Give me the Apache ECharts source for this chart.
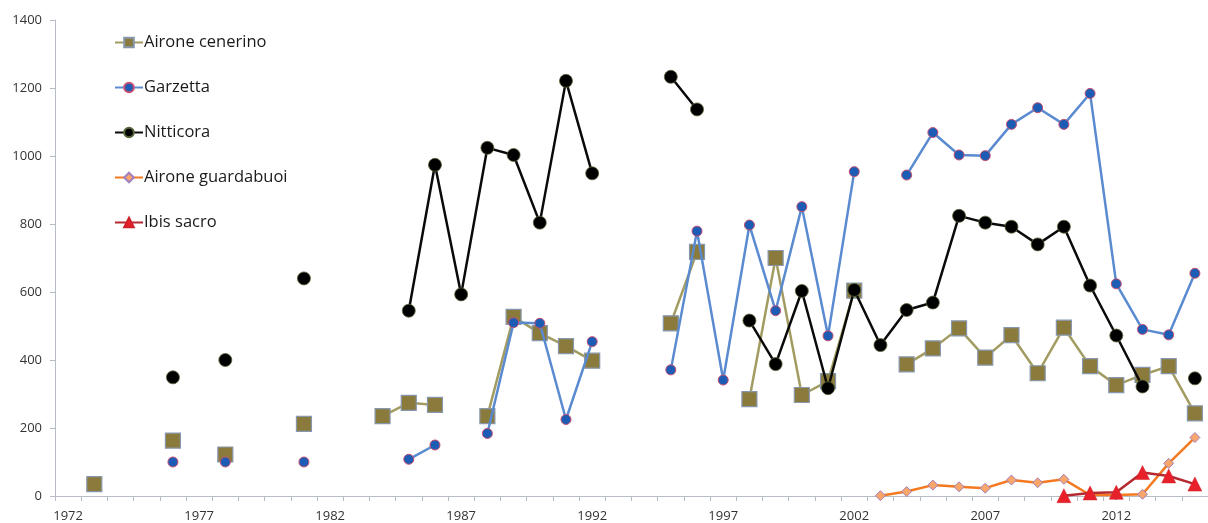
<!DOCTYPE html>
<html>
<head>
<meta charset="utf-8">
<script src="https://cdn.jsdelivr.net/npm/echarts@6/dist/echarts.min.js"></script>
<style>
html,body{margin:0;padding:0;background:#fff;}
#c{width:1208px;height:523px;}
</style>
</head>
<body>
<div id="c"></div>
<script>
// Years (categories)
var years = [];
for (var y = 1972; y <= 2015; y++) years.push(String(y));

// Values indexed by year 1972..2015 (null = no data)
var aironeCenerino = [
  null, 35, null, null, 163, null, 122, null, null, 212,   // 1972-1981
  null, null, 235, 274, 268, null, 235, 527, 479, 441,      // 1982-1991
  398, null, null, 508, 718, null, 285, 700, 297, 338,      // 1992-2001
  604, null, 387, 434, 493, 407, 473, 361, 495, 382,        // 2002-2011
  326, 356, 382, 243                                        // 2012-2015
];
var garzetta = [
  null, null, null, null, 100, null, 100, null, null, 100,
  null, null, null, 108, 150, null, 184, 510, 508, 225,
  454, null, null, 371, 779, 341, 797, 545, 851, 471,
  954, null, 944, 1069, 1003, 1001, 1093, 1142, 1093, 1184,
  624, 490, 474, 655
];
var nitticora = [
  null, null, null, null, 349, null, 400, null, null, 640,
  null, null, null, 545, 974, 593, 1024, 1003, 804, 1221,
  949, null, null, 1233, 1137, null, 516, 388, 603, 317,
  606, 444, 547, 569, 824, 804, 792, 740, 792, 619,
  472, 322, null, 346
];
var aironeGuardabuoi = [
  null, null, null, null, null, null, null, null, null, null,
  null, null, null, null, null, null, null, null, null, null,
  null, null, null, null, null, null, null, null, null, null,
  null, 1, 13, 32, 27, 23, 47, 39, 49, 3,
  3, 5, 96, 172
];
var ibisSacro = [
  null, null, null, null, null, null, null, null, null, null,
  null, null, null, null, null, null, null, null, null, null,
  null, null, null, null, null, null, null, null, null, null,
  null, null, null, null, null, null, null, null, 1, 9,
  11, 69, 59, 35
];
var seriesNames = ['Airone cenerino', 'Garzetta', 'Nitticora', 'Airone guardabuoi', 'Ibis sacro'];

var chart = echarts.init(document.getElementById('c'), null, {renderer: 'canvas'});
var font = '"Open Sans", "Noto Sans", sans-serif';

function mkSeries(name, data, lineColor, symbol, size, fill, border, bw, z) {
  return {
    name: name, type: 'line', data: data, connectNulls: false,
    symbol: symbol, symbolSize: size, showAllSymbol: true, z: z,
    lineStyle: {color: lineColor, width: 2.5},
    itemStyle: {color: fill, borderColor: border, borderWidth: bw},
    emphasis: {disabled: true},
    animation: false
  };
}

chart.setOption({
  backgroundColor: '#ffffff',
  animation: false,
  grid: {left: 55, top: 20, bottom: 27, width: 1156},
  legend: {
    orient: 'vertical', left: 109, top: 29, itemGap: 28,
    itemWidth: 28, itemHeight: 12,
    textStyle: {fontFamily: font, fontSize: 16.5, color: '#1a1a1a', padding: [0,0,0,-4]},
    data: seriesNames
  },
  xAxis: {
    type: 'category', data: years, boundaryGap: true,
    axisLine: {lineStyle: {color: '#b8bcc4', width: 1}},
    axisTick: {show: true, interval: 0, length: 5, lineStyle: {color: '#b8bcc4'}},
    axisLabel: {interval: 4, fontFamily: font, fontSize: 13, color: '#333333', margin: 14},
    splitLine: {show: false}
  },
  yAxis: {
    type: 'value', min: 0, max: 1400, interval: 200,
    axisLine: {show: true, lineStyle: {color: '#b8bcc4', width: 1}},
    axisTick: {show: true, length: 5, lineStyle: {color: '#b8bcc4'}},
    axisLabel: {fontFamily: font, fontSize: 13, color: '#333333', margin: 13,
      formatter: function (v) { return String(v); }},
    splitLine: {show: false}
  },
  series: [
    mkSeries(seriesNames[0], aironeCenerino, '#a39c62', 'rect', 15, '#8a7a3c', '#8797ad', 1.2, 2),
    mkSeries(seriesNames[1], garzetta, '#5a8ad0', 'circle', 10, '#1c5cb4', '#c85070', 1, 3),
    mkSeries(seriesNames[2], nitticora, '#0a0a0a', 'circle', 13, '#000000', '#55663a', 0.8, 4),
    mkSeries(seriesNames[3], aironeGuardabuoi, '#f47a22', 'diamond', 10, '#f8a66a', '#a080c0', 1, 5),
    mkSeries(seriesNames[4], ibisSacro, '#b52a30', 'triangle', 14, '#e8202a', '#d02028', 0.5, 6)
  ]
});
</script>
</body>
</html>
